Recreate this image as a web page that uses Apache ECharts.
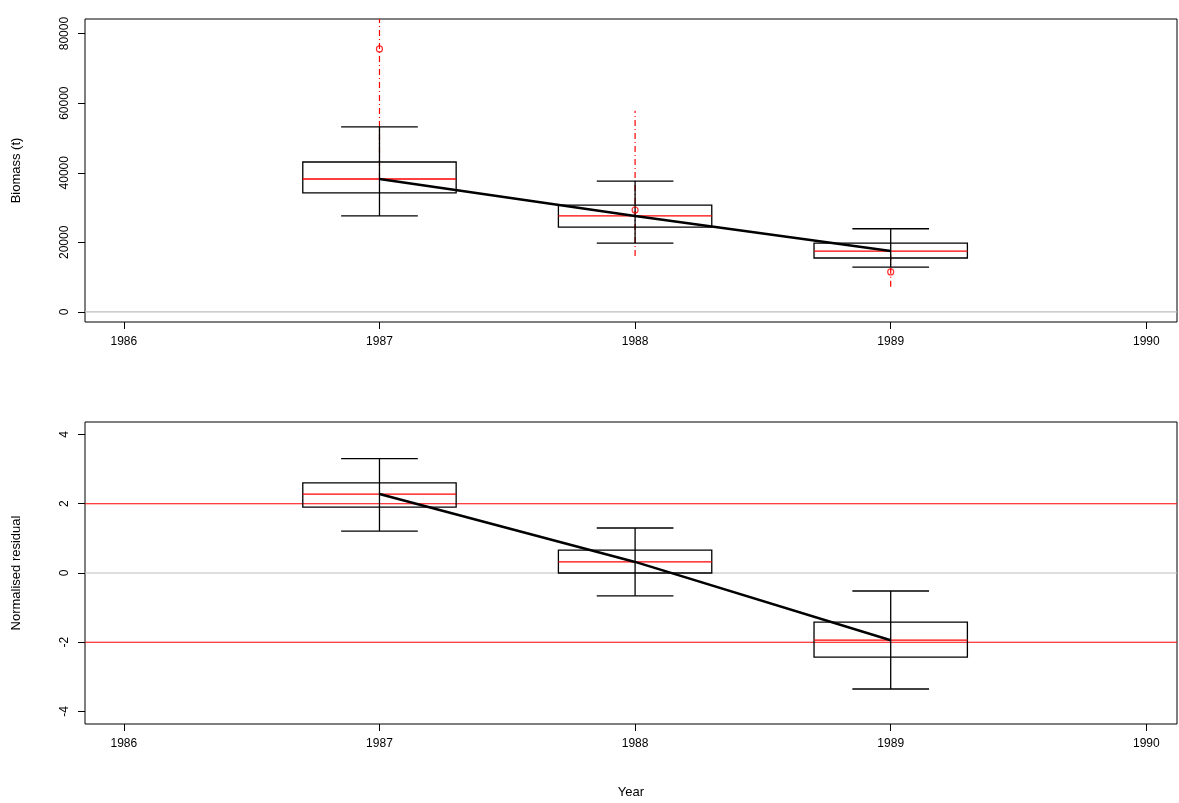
<!DOCTYPE html>
<html><head><meta charset="utf-8">
<script src="https://cdn.jsdelivr.net/npm/echarts@6/dist/echarts.min.js"></script>
<style>html,body{margin:0;background:#fff}#c{width:1179px;height:803px}</style>
</head><body><div id="c"></div>
<script>
var years = [1987, 1988, 1989];
var bioBoxLow = [34200, 24400, 15500];
var bioBoxHigh = [43100, 30700, 19800];
var bioMedian = [38200, 27600, 17500];
var bioWhiskLow = [27600, 19800, 12900];
var bioWhiskHigh = [53200, 37600, 23900];
var obsValue = [75600, 29300, 11500];
var obsLow = [38200, 16100, 7200];
var obsHigh = [90000, 57800, 17500];
var resBoxLow = [1.9, 0.0, -2.43];
var resBoxHigh = [2.6, 0.66, -1.42];
var resMedian = [2.28, 0.32, -1.94];
var resWhiskLow = [1.21, -0.66, -3.35];
var resWhiskHigh = [3.3, 1.3, -0.52];
var xTicks = [1986, 1987, 1988, 1989, 1990];
var bioTicks = [0, 20000, 40000, 60000, 80000];
var resTicks = [-4, -2, 0, 2, 4];

var chart = echarts.init(document.getElementById('c'));
var font = 'Liberation Sans, Arial, sans-serif';
function boxSeries(idx, lo, hi, med, wl, wh) {
  var data = years.map(function (y, i) { return [y, lo[i], hi[i], med[i], wl[i], wh[i]]; });
  return {
    type: 'custom', xAxisIndex: idx, yAxisIndex: idx, data: data, z: 3, clip: true,
    renderItem: function (params, api) {
      var x = api.value(0);
      var pLo = api.coord([x - 0.3, api.value(1)]);
      var pHi = api.coord([x + 0.3, api.value(2)]);
      var pMed = api.coord([x, api.value(3)]);
      var pWl = api.coord([x, api.value(4)]);
      var pWh = api.coord([x, api.value(5)]);
      var cap = api.size([0.15, 0])[0];
      var s = { stroke: '#000', lineWidth: 1.3 };
      return { type: 'group', children: [
        { type: 'rect', shape: { x: pLo[0], y: pHi[1], width: pHi[0] - pLo[0], height: pLo[1] - pHi[1] }, style: { fill: 'none', stroke: '#000', lineWidth: 1.3 } },
        { type: 'line', shape: { x1: pLo[0], y1: pMed[1], x2: pHi[0], y2: pMed[1] }, style: { stroke: '#ff0000', lineWidth: 1.3 } },
        { type: 'line', shape: { x1: pWl[0], y1: pWl[1], x2: pWh[0], y2: pWh[1] }, style: s },
        { type: 'line', shape: { x1: pWl[0] - cap, y1: pWl[1], x2: pWl[0] + cap, y2: pWl[1] }, style: s },
        { type: 'line', shape: { x1: pWh[0] - cap, y1: pWh[1], x2: pWh[0] + cap, y2: pWh[1] }, style: s }
      ]};
    }
  };
}
function hline(idx, val, color) {
  return { type: 'line', xAxisIndex: idx, yAxisIndex: idx, z: 1, symbol: 'none',
    lineStyle: { color: color, width: 1.2 }, data: [[1985.848, val], [1990.12, val]] };
}
function xAxis(gi) {
  return { type: 'value', gridIndex: gi, min: 1985.848, max: 1990.12,
    axisLine: { show: false, onZero: false }, splitLine: { show: false },
    axisTick: { show: true, length: 7, lineStyle: { color: '#000' }, customValues: xTicks },
    axisLabel: { color: '#000', fontFamily: font, fontSize: 12, margin: 14, customValues: xTicks, formatter: function (v) { return String(v); } },
    name: gi === 1 ? 'Year' : '', nameLocation: 'middle', nameGap: 62, nameTextStyle: { color: '#000', fontFamily: font, fontSize: 13 } };
}
function yAxis(gi, min, max, ticks, name) {
  return { type: 'value', gridIndex: gi, min: min, max: max,
    axisLine: { show: false, onZero: false }, splitLine: { show: false },
    axisTick: { show: true, length: 7, lineStyle: { color: '#000' }, customValues: ticks },
    axisLabel: { color: '#000', fontFamily: font, fontSize: 12, rotate: 90, margin: 14, customValues: ticks, formatter: function (v) { return String(v); } },
    name: name, nameLocation: 'middle', nameGap: 62, nameRotate: 90, nameTextStyle: { color: '#000', fontFamily: font, fontSize: 13 } };
}
chart.setOption({
  animation: false,
  grid: [
    { left: 85, right: 2, top: 19, height: 303, show: true, borderColor: '#000', borderWidth: 1, backgroundColor: 'transparent' },
    { left: 85, right: 2, top: 422, height: 302, show: true, borderColor: '#000', borderWidth: 1, backgroundColor: 'transparent' }
  ],
  xAxis: [xAxis(0), xAxis(1)],
  yAxis: [yAxis(0, -2900, 84200, bioTicks, 'Biomass (t)'), yAxis(1, -4.36, 4.36, resTicks, 'Normalised residual')],
  series: [
    hline(0, 0, '#bebebe'),
    hline(1, 0, '#bebebe'),
    hline(1, 2, '#ff0000'),
    hline(1, -2, '#ff0000'),
    { type: 'custom', xAxisIndex: 0, yAxisIndex: 0, z: 2, clip: true,
      data: years.map(function (y, i) { return [y, obsLow[i], obsHigh[i]]; }),
      renderItem: function (params, api) {
        var a = api.coord([api.value(0), api.value(1)]), b = api.coord([api.value(0), api.value(2)]);
        return { type: 'line', shape: { x1: a[0], y1: a[1], x2: b[0], y2: b[1] }, style: { stroke: '#ff0000', lineWidth: 1.2, lineDash: [6, 3, 1, 3] } };
      } },
    boxSeries(0, bioBoxLow, bioBoxHigh, bioMedian, bioWhiskLow, bioWhiskHigh),
    boxSeries(1, resBoxLow, resBoxHigh, resMedian, resWhiskLow, resWhiskHigh),
    { type: 'line', xAxisIndex: 0, yAxisIndex: 0, z: 4, symbol: 'none', lineStyle: { color: '#000', width: 2.5 },
      data: years.map(function (y, i) { return [y, bioMedian[i]]; }) },
    { type: 'line', xAxisIndex: 1, yAxisIndex: 1, z: 4, symbol: 'none', lineStyle: { color: '#000', width: 2.5 },
      data: years.map(function (y, i) { return [y, resMedian[i]]; }) },
    { type: 'scatter', xAxisIndex: 0, yAxisIndex: 0, z: 5, symbol: 'circle', symbolSize: 6,
      itemStyle: { color: 'transparent', borderColor: '#ff0000', borderWidth: 1.2 },
      data: years.map(function (y, i) { return [y, obsValue[i]]; }) }
  ]
});
</script></body></html>
